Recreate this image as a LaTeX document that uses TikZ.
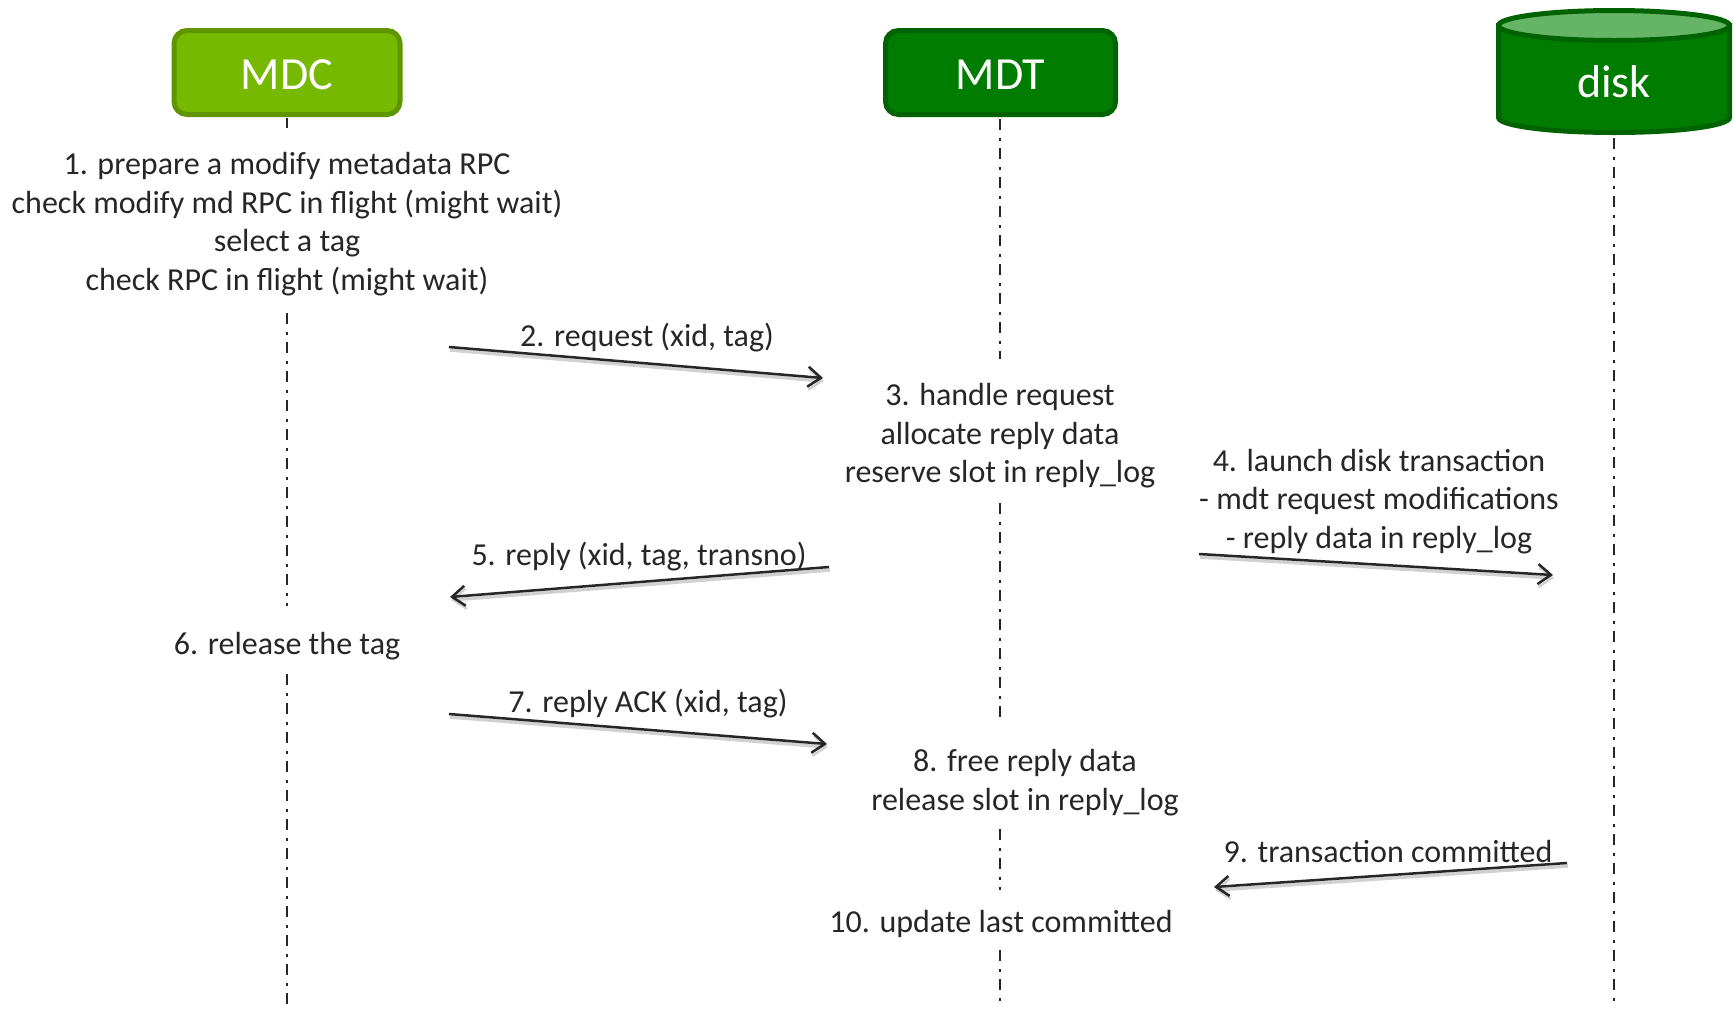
\documentclass[tikz,border=0pt]{standalone}
\usepackage{fontspec}
\setmainfont{Carlito}
\usetikzlibrary{arrows.meta,calc}
\definecolor{txt}{HTML}{262626}
\definecolor{mdcfill}{HTML}{76B900}
\definecolor{mdcline}{HTML}{5F9600}
\definecolor{mdtfill}{HTML}{007D00}
\definecolor{mdtline}{HTML}{006200}
\definecolor{disktop}{HTML}{66B466}
\begin{document}
\begin{tikzpicture}[x=1pt,y=-1pt,
  note/.style={font=\fontsize{32}{38.5}\selectfont, text=txt, align=center, inner sep=0pt},
  actor/.style={rounded corners=13pt, line width=5pt, minimum width=226pt, minimum height=84pt,
    text=white, font=\fontsize{46}{50}\selectfont, inner sep=0pt},
  lifeline/.style={draw=txt, line width=2.5pt, dash pattern=on 11pt off 7.5pt on 3pt off 7.5pt},
  msg/.style={draw=txt, line width=2.5pt,
    -{Straight Barb[length=13pt,width=20pt,line width=2.5pt]},
    preaction={draw=black!18, line width=3.5pt, transform canvas={shift={(1pt,-3pt)}}}}
]
\useasboundingbox (0,0) rectangle (1733,1010);

% participants
\node[actor, fill=mdcfill, draw=mdcline] (mdc) at (287,72.5) {\raisebox{-2.5pt}[\height][\depth]{MDC}};
\node[actor, fill=mdtfill, draw=mdtline, minimum width=230pt] (mdt) at (1000.5,72.5) {\raisebox{-2.5pt}[\height][\depth]{MDT}};
\filldraw[fill=mdtfill, draw=mdtline, line width=5pt]
  (1498.5,25.5) -- (1498.5,117.5)
  arc[start angle=180, end angle=360, x radius=115.5pt, y radius=15pt]
  -- (1729.5,25.5) -- cycle;
\filldraw[fill=disktop, draw=mdtline, line width=5pt]
  (1614,25.5) ellipse[x radius=115.5pt, y radius=15pt];
\node[text=white, font=\fontsize{46}{50}\selectfont, inner sep=0pt] (disk) at (1614,82) {disk};

% step texts
\node[note] (s1) at (287,224) {1. prepare a modify metadata RPC\\check modify md RPC in flight (might wait)\\select a tag\\check RPC in flight (might wait)};
\node[note] (s3) at (1000,436) {3. handle request\\allocate reply data\\reserve slot in reply\_log};
\node[note] (s4) at (1379,501.5) {4. launch disk transaction\\- mdt request modifications\\- reply data in reply\_log};
\node[note] (s6) at (287,646) {6. release the tag};
\node[note] (s8) at (1025,782.5) {8. free reply data\\release slot in reply\_log};
\node[note] (s10) at (1001,924) {10. update last committed};

% message labels
\node[note] (m2) at (647,338) {2. request (xid, tag)};
\node[note] (m5) at (639,557) {5. reply (xid, tag, transno)};
\node[note] (m7) at (648,704) {7. reply ACK (xid, tag)};
\node[note] (m9) at (1388,852) {9. transaction committed};

% lifeline end points
\coordinate (c1a) at (287,118);  \coordinate (c1b) at (287,128);
\coordinate (c1c) at (287,313);  \coordinate (c1d) at (287,606);
\coordinate (c1e) at (287,674);  \coordinate (c1f) at (287,1006);
\coordinate (t1a) at (1000,119); \coordinate (t1b) at (1000,359);
\coordinate (t1c) at (1000,503); \coordinate (t1d) at (1000,724);
\coordinate (t1e) at (1000,829); \coordinate (t1f) at (1000,890);
\coordinate (t1g) at (1000,950); \coordinate (t1h) at (1000,1006);
\coordinate (d1a) at (1614,138); \coordinate (d1b) at (1614,1006);

\draw[lifeline] (c1a) -- (c1b);
\draw[lifeline] (c1c) -- (c1d);
\draw[lifeline] (c1e) -- (c1f);
\draw[lifeline] (t1a) -- (t1b);
\draw[lifeline] (t1c) -- (t1d);
\draw[lifeline] (t1e) -- (t1f);
\draw[lifeline] (t1g) -- (t1h);
\draw[lifeline] (d1a) -- (d1b);

% message end points
\coordinate (a2s) at (449,347);  \coordinate (a2e) at (823,378);
\coordinate (a4s) at (1199,554); \coordinate (a4e) at (1553,575);
\coordinate (a5s) at (829,567);  \coordinate (a5e) at (450,597);
\coordinate (a7s) at (449,714);  \coordinate (a7e) at (827,744);
\coordinate (a9s) at (1567,863); \coordinate (a9e) at (1214,887);

\draw[msg] (a2s) -- (a2e);
\draw[msg] (a4s) -- (a4e);
\draw[msg] (a5s) -- (a5e);
\draw[msg] (a7s) -- (a7e);
\draw[msg] (a9s) -- (a9e);
\end{tikzpicture}
\end{document}
